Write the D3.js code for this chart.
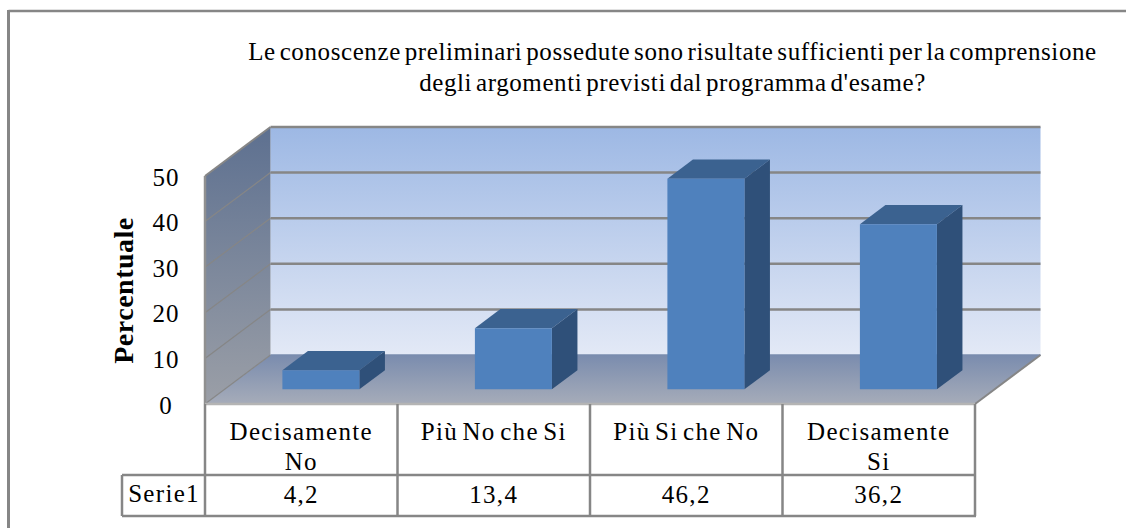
<!DOCTYPE html>
<html>
<head>
<meta charset="utf-8">
<script src="https://cdn.jsdelivr.net/npm/d3@7"></script>
<style>
  body { margin: 0; background: #fff; }
  text { font-family: "Liberation Serif", serif; fill: #000; }
</style>
</head>
<body>
<svg width="1126" height="529"></svg>
<script>
// Values
const categories = ['Decisamente No', 'Più No che Si', 'Più Si che No', 'Decisamente Si'];
const categoryLines = [['Decisamente', 'No'], ['Più No che Si'], ['Più Si che No'], ['Decisamente', 'Si']];
const values = [4.2, 13.4, 46.2, 36.2];
const valueLabels = ['4,2', '13,4', '46,2', '36,2'];
const yTicks = [0, 10, 20, 30, 40, 50];
const seriesName = 'Serie1';
const titleLines = [
    'Le conoscenze preliminari possedute sono risultate sufficienti per la comprensione',
    'degli argomenti previsti dal programma d\'esame?'
];

const plotLeft = 205, plotRight = 975, plotBottom = 404, plotTop = 176;
const depthX = 65.5, depthY = 49;
const grey = '#868686';

const x = d3.scaleBand().domain(categories).range([plotLeft, plotRight]).paddingInner(0).paddingOuter(0);
const y = d3.scaleLinear().domain([0, 50]).range([plotBottom, plotTop]);

// 3d projection, d = 0 front of the floor, d = 1 back wall
const px = (xv, d) => xv + depthX * d;
const py = (yv, d) => y(yv) - depthY * d;
const poly = pts => pts.map(p => p.join(',')).join(' ');

const svg = d3.select('svg');
const defs = svg.append('defs');

const addGrad = function(id, c1, c2){
    const g = defs.append('linearGradient').attr('id', id)
        .attr('x1', 0).attr('y1', 0).attr('x2', 0).attr('y2', 1);
    g.append('stop').attr('offset', '0%').attr('stop-color', c1);
    g.append('stop').attr('offset', '100%').attr('stop-color', c2);
};
addGrad('wallGrad', '#9db8e4', '#e3e9f6');
addGrad('sideGrad', '#5d7090', '#9b9fa7');
addGrad('floorGrad', '#7a8cae', '#a6acb9');

// outer frame, only top and left are in the picture
svg.append('line')
    .attr('x1', 8.5).attr('x2', 1126).attr('y1', 11).attr('y2', 11)
    .attr('stroke', grey).attr('stroke-width', 2.5);
svg.append('line')
    .attr('x1', 8.5).attr('x2', 8.5).attr('y1', 10).attr('y2', 528)
    .attr('stroke', grey).attr('stroke-width', 3);

// title
svg.append('g').selectAll('text').data(titleLines).enter().append('text')
    .attr('x', 672.5)
    .attr('y', (d, i) => 60 + i * 31)
    .attr('text-anchor', 'middle')
    .style('font-size', '25px')
    .style('letter-spacing', '0.6px')
    .style('word-spacing', '-3px')
    .text(d => d);

// walls and floor
svg.append('polygon')
    .attr('points', poly([[px(plotLeft, 1), py(50, 1)], [px(plotRight, 1), py(50, 1)], [px(plotRight, 1), py(0, 1)], [px(plotLeft, 1), py(0, 1)]]))
    .attr('fill', 'url(#wallGrad)');
svg.append('polygon')
    .attr('points', poly([[px(plotLeft, 0), py(50, 0)], [px(plotLeft, 1), py(50, 1)], [px(plotLeft, 1), py(0, 1)], [px(plotLeft, 0), py(0, 0)]]))
    .attr('fill', 'url(#sideGrad)');
svg.append('polygon')
    .attr('points', poly([[px(plotLeft, 0), py(0, 0)], [px(plotLeft, 1), py(0, 1)], [px(plotRight, 1), py(0, 1)], [px(plotRight, 0), py(0, 0)]]))
    .attr('fill', 'url(#floorGrad)');

// gridlines: thin along the side wall, heavier along the back wall
svg.append('g').selectAll('line').data(yTicks).enter().append('line')
    .attr('x1', px(plotLeft, 0)).attr('x2', px(plotLeft, 1))
    .attr('y1', d => py(d, 0)).attr('y2', d => py(d, 1))
    .attr('stroke', grey)
    .attr('stroke-width', d => d == 50 ? 2 : 1.2);
svg.append('g').selectAll('line').data(yTicks.filter(d => d > 0)).enter().append('line')
    .attr('x1', px(plotLeft, 1)).attr('x2', px(plotRight, 1))
    .attr('y1', d => py(d, 1)).attr('y2', d => py(d, 1))
    .attr('stroke', grey)
    .attr('stroke-width', 2.5);
svg.append('line')
    .attr('x1', px(plotLeft, 1)).attr('x2', px(plotRight, 1))
    .attr('y1', py(0, 1)).attr('y2', py(0, 1))
    .attr('stroke', '#7a8cae').attr('stroke-width', 1.5);
svg.append('line')
    .attr('x1', px(plotRight, 1)).attr('x2', px(plotRight, 0))
    .attr('y1', py(0, 1)).attr('y2', py(0, 0))
    .attr('stroke', grey).attr('stroke-width', 2);
svg.append('line')
    .attr('x1', plotLeft).attr('x2', plotLeft).attr('y1', y(50)).attr('y2', y(0))
    .attr('stroke', '#909090').attr('stroke-width', 2.5);

// bars
const barWidth = x.bandwidth() * 0.4;
const d0 = 0.3, d1 = 0.69;
const bars = svg.append('g').selectAll('g').data(values).enter().append('g');
const barLeft = (d, i) => x(categories[i]) + (x.bandwidth() - barWidth) / 2;

bars.append('polygon')
    .attr('fill', '#3b6290')
    .attr('points', (d, i) => {
        const a = barLeft(d, i), b = a + barWidth;
        return poly([[px(a, d0), py(d, d0)], [px(a, d1), py(d, d1)], [px(b, d1), py(d, d1)], [px(b, d0), py(d, d0)]]);
    });
bars.append('polygon')
    .attr('fill', '#2f5079')
    .attr('points', (d, i) => {
        const b = barLeft(d, i) + barWidth;
        return poly([[px(b, d0), py(d, d0)], [px(b, d1), py(d, d1)], [px(b, d1), py(0, d1)], [px(b, d0), py(0, d0)]]);
    });
bars.append('polygon')
    .attr('fill', '#4f81bd')
    .attr('points', (d, i) => {
        const a = barLeft(d, i), b = a + barWidth;
        return poly([[px(a, d0), py(d, d0)], [px(b, d0), py(d, d0)], [px(b, d0), py(0, d0)], [px(a, d0), py(0, d0)]]);
    });

// y tick labels and axis title
svg.append('g').selectAll('text').data(yTicks).enter().append('text')
    .attr('x', 166)
    .attr('y', d => y(d) + 9.5)
    .attr('text-anchor', 'middle')
    .style('font-size', '25px')
    .style('letter-spacing', '1px')
    .text(d => d);

svg.append('text')
    .attr('transform', 'translate(133,290.5) rotate(-90)')
    .attr('text-anchor', 'middle')
    .style('font-size', '28px')
    .style('font-weight', 'bold')
    .style('letter-spacing', '0.5px')
    .text('Percentuale');

// data table
const rowMid = 475, rowEnd = 516, tableLeft = 122;
const tableLines = [
    [plotLeft, plotBottom, plotLeft, rowEnd],
    [tableLeft, rowMid, plotRight, rowMid],
    [tableLeft, rowEnd, plotRight + 1, rowEnd],
    [tableLeft, rowMid, tableLeft, rowEnd]
];
categories.forEach(function(c){
    tableLines.push([x(c) + x.bandwidth(), plotBottom, x(c) + x.bandwidth(), rowEnd]);
});
svg.append('line')
    .attr('x1', plotLeft).attr('x2', plotRight).attr('y1', plotBottom).attr('y2', plotBottom)
    .attr('stroke', '#b4b4b4').attr('stroke-width', 2.5);
svg.append('g').selectAll('line').data(tableLines).enter().append('line')
    .attr('x1', d => d[0]).attr('y1', d => d[1])
    .attr('x2', d => d[2]).attr('y2', d => d[3])
    .attr('stroke', grey)
    .attr('stroke-width', 2.5);

const cellText = function(sel){
    sel.attr('text-anchor', 'middle')
        .style('font-size', '25px')
        .style('letter-spacing', '1.3px')
        .style('word-spacing', '-3px');
};
categories.forEach(function(c, i){
    const mid = x(c) + x.bandwidth() / 2;
    svg.append('text').selectAll('tspan').data(categoryLines[i]).enter().append('tspan')
        .attr('x', mid)
        .attr('y', (d, j) => 440 + j * 30)
        .call(cellText)
        .text(d => d);
    svg.append('text')
        .attr('x', mid).attr('y', 503)
        .call(cellText)
        .text(valueLabels[i]);
});
svg.append('text')
    .attr('x', (tableLeft + plotLeft) / 2 + 0.5).attr('y', 502)
    .call(cellText)
    .text(seriesName);
</script>
</body>
</html>
